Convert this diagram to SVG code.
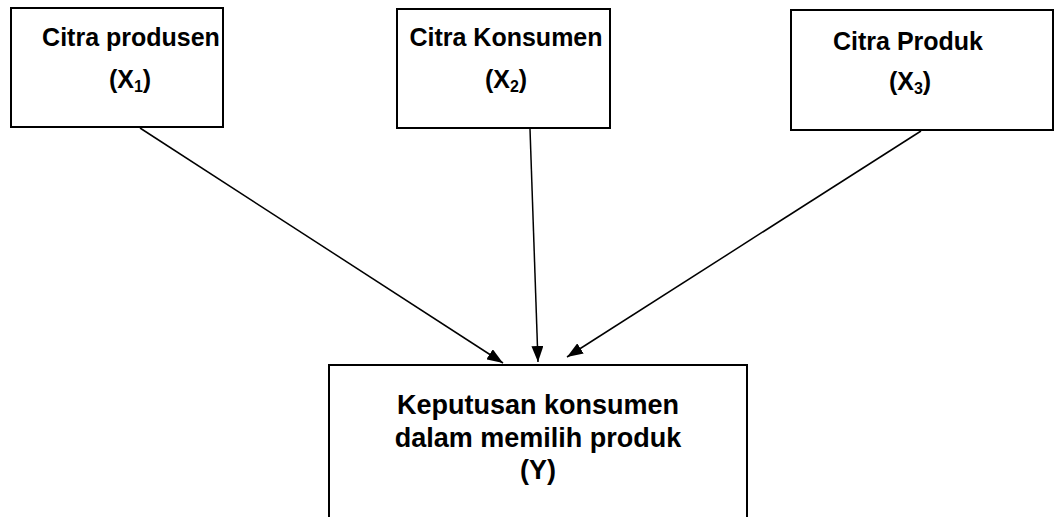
<svg xmlns="http://www.w3.org/2000/svg" width="1054" height="517" viewBox="0 0 1054 517">
<defs>
<style>
.box{fill:#fff;stroke:#000;stroke-width:2}
.t{font-family:"Liberation Sans",Arial,sans-serif;font-weight:bold;font-size:25px;fill:#000;text-anchor:middle}
.tb{font-size:27px}
.sub{font-size:16px}
.c{stroke:#000;stroke-width:1.5;fill:none;marker-end:url(#ah)}
</style>
<marker id="ah" viewBox="0 0 16 12" refX="16" refY="6" markerWidth="16" markerHeight="12" markerUnits="userSpaceOnUse" orient="auto">
<path d="M0,0 L16,6 L0,12 Z" fill="#000"/>
</marker>
</defs>
<rect width="1054" height="517" fill="#fff"/>
<g id="node-x1">
<rect class="box" x="11" y="8" width="212" height="119"/>
<text class="t" x="131" y="46">Citra produsen</text>
<text class="t" x="130" y="88">(X<tspan class="sub" dy="4">1</tspan><tspan dy="-4">)</tspan></text>
</g>
<g id="node-x2">
<rect class="box" x="397" y="9" width="213" height="119"/>
<text class="t" x="506" y="46">Citra Konsumen</text>
<text class="t" x="506" y="88">(X<tspan class="sub" dy="4">2</tspan><tspan dy="-4">)</tspan></text>
</g>
<g id="node-x3">
<rect class="box" x="791" y="10" width="262" height="120"/>
<text class="t" x="908" y="50">Citra Produk</text>
<text class="t" x="910" y="90">(X<tspan class="sub" dy="4">3</tspan><tspan dy="-4">)</tspan></text>
</g>
<g id="node-y">
<rect class="box" x="329" y="365" width="418" height="170"/>
<text class="t tb" x="538" y="414">Keputusan konsumen</text>
<text class="t tb" x="538" y="447">dalam memilih produk</text>
<text class="t tb" x="538" y="479">(Y)</text>
</g>
<g id="connectors">
<line class="c" x1="140" y1="128" x2="503" y2="363"/>
<line class="c" x1="530" y1="129" x2="538" y2="362"/>
<line class="c" x1="921" y1="131" x2="567" y2="357"/>
</g>
</svg>
